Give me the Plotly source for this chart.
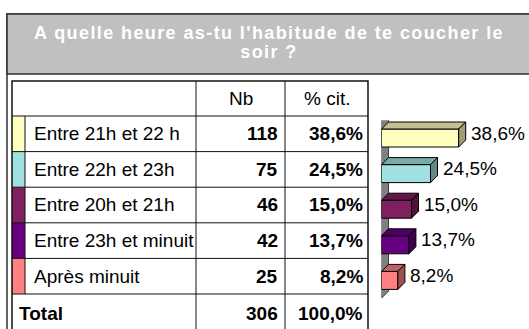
import plotly.graph_objects as go

# ---- data -------------------------------------------------------------
categories = ["Entre 21h et 22 h", "Entre 22h et 23h", "Entre 20h et 21h",
              "Entre 23h et minuit", "Après minuit"]
counts = [118, 75, 46, 42, 25]
percents = [38.6, 24.5, 15.0, 13.7, 8.2]
total_count = 306
total_percent = 100.0
header_labels = ["Nb", "% cit."]
total_label = "Total"
title_lines = ["A quelle heure as-tu l'habitude de te coucher le", "soir ?"]
colors = ["#FFFFC0", "#A0E0E0", "#802060", "#660080", "#FF8080"]

# ---- geometry (pixels) ------------------------------------------------
W, H = 529, 329
FONT = "Liberation Sans, Arial, sans-serif"
TXT = 19
TITLE_CX = 269

col_x = [12, 25, 196, 285, 368]          # table column edges
head_top, head_h, row_h = 81, 35, 35.6
row_edges = [head_top, head_top + head_h] + [head_top + head_h + row_h * (k + 1)
                                              for k in range(len(categories) + 1)]


def px(x):
    return x / W


def py(y):
    return 1 - y / H


def fmt_pct(v):
    return f"{v:.1f}".replace(".", ",") + "%"


def shade(hex_color, f):
    r, g, b = (int(hex_color[i:i + 2], 16) for i in (1, 3, 5))
    return "#%02X%02X%02X" % (int(r * f), int(g * f), int(b * f))


shapes = []
annotations = []

# title band and outer frame
shapes.append(dict(type="rect", xref="paper", yref="paper",
                   x0=px(7), x1=px(W + 6), y0=py(14), y1=py(H + 6),
                   line=dict(color="#303030", width=1.5), fillcolor="white", layer="below"))
shapes.append(dict(type="rect", xref="paper", yref="paper",
                   x0=px(7), x1=px(W + 6), y0=py(74), y1=py(14),
                   line=dict(color="#303030", width=1.5), fillcolor="#C0C0C0", layer="below"))
for k, (line_text, yc) in enumerate(zip(title_lines, [33, 52])):
    annotations.append(dict(xref="paper", yref="paper", x=px(TITLE_CX), y=py(yc),
                            text="<b>" + line_text + "</b>", showarrow=False,
                            xanchor="center", yanchor="middle", align="center",
                            font=dict(family=FONT, size=18, color="white")))

# table: swatches
for k, c in enumerate(colors):
    shapes.append(dict(type="rect", xref="paper", yref="paper",
                       x0=px(col_x[0]), x1=px(col_x[1]),
                       y0=py(row_edges[k + 2]), y1=py(row_edges[k + 1]),
                       line=dict(width=0), fillcolor=c, layer="below"))

# table: grid lines
line_style = dict(color="#101010", width=1)
for y in row_edges[1:-1]:
    shapes.append(dict(type="line", xref="paper", yref="paper",
                       x0=px(col_x[0]), x1=px(col_x[-1]), y0=py(y), y1=py(y),
                       line=line_style))
for x in col_x[2:4]:
    shapes.append(dict(type="line", xref="paper", yref="paper",
                       x0=px(x), x1=px(x), y0=py(row_edges[0]), y1=py(H + 6),
                       line=line_style))
shapes.append(dict(type="line", xref="paper", yref="paper",
                   x0=px(col_x[1]), x1=px(col_x[1]),
                   y0=py(row_edges[1]), y1=py(row_edges[-2]), line=line_style))
shapes.append(dict(type="rect", xref="paper", yref="paper",
                   x0=px(col_x[0]), x1=px(col_x[-1]), y0=py(H + 6), y1=py(row_edges[0]),
                   line=dict(color="#101010", width=1.5)))


# table: text
def cell_text(x, y, text, anchor, bold=False):
    annotations.append(dict(xref="paper", yref="paper", x=px(x), y=py(y),
                            text=("<b>%s</b>" % text) if bold else text,
                            showarrow=False, xanchor=anchor, yanchor="middle",
                            font=dict(family=FONT, size=TXT, color="black")))


head_mid = head_top + head_h / 2
cell_text((col_x[2] + col_x[3]) / 2, head_mid, header_labels[0], "center")
cell_text((col_x[3] + col_x[4]) / 2, head_mid, header_labels[1], "center")
for k, (lab, n, p) in enumerate(zip(categories, counts, percents)):
    ymid = (row_edges[k + 1] + row_edges[k + 2]) / 2
    cell_text(col_x[1] + 7, ymid, lab, "left")
    cell_text(col_x[3] - 5, ymid, str(n), "right", bold=True)
    cell_text(col_x[4] - 3, ymid, fmt_pct(p), "right", bold=True)
ymid = row_edges[-2] + 19
cell_text(col_x[0] + 5, ymid, total_label, "left", bold=True)
cell_text(col_x[3] - 5, ymid, str(total_count), "right", bold=True)
cell_text(col_x[4] - 3, ymid, fmt_pct(total_percent), "right", bold=True)

# ---- 3-D bar chart ---------------------------------------------------
bar_left, bar_top, bar_bottom = 381.5, 120.2, 298.2
px_per_unit = 2.0
n = len(categories)
unit_h = (bar_bottom - bar_top) / n
dx = 7 / px_per_unit            # depth, x units
dy = 7 / unit_h                 # depth, y units (upwards = negative)
half = 9 / unit_h               # half height of the front face

traces = []
ypos = list(range(n))
traces.append(go.Bar(x=percents, y=ypos, orientation="h", width=2 * half,
                     marker=dict(color=colors, line=dict(color="black", width=1)),
                     xaxis="x2", yaxis="y2", hoverinfo="skip", showlegend=False))
for i, (v, c) in enumerate(zip(percents, colors)):
    top = i - half
    bot = i + half
    traces.append(go.Scatter(x=[0, dx, v + dx, v, 0], y=[top, top - dy, top - dy, top, top],
                             mode="lines", fill="toself", fillcolor=shade(c, 0.76),
                             line=dict(color="black", width=1), xaxis="x2", yaxis="y2",
                             hoverinfo="skip", showlegend=False))
    traces.append(go.Scatter(x=[v, v + dx, v + dx, v, v], y=[top, top - dy, bot - dy, bot, top],
                             mode="lines", fill="toself", fillcolor=shade(c, 0.62),
                             line=dict(color="black", width=1), xaxis="x2", yaxis="y2",
                             hoverinfo="skip", showlegend=False))
    annotations.append(dict(xref="x2", yref="y2", x=v + dx, y=i, text=fmt_pct(v),
                            showarrow=False, xanchor="left", yanchor="middle",
                            xshift=3, yshift=5,
                            font=dict(family=FONT, size=TXT, color="black")))

# back wall of the 3-D plot
y_lo, y_hi = n - 0.5, -0.5
shapes.append(dict(type="path", xref="x2", yref="y2", layer="below",
                   path=f"M 0,{y_lo} L 0,{y_hi} L {dx},{y_hi - dy} L {dx},{y_lo - dy} Z",
                   fillcolor="#808080", line=dict(color="#404040", width=1)))

fig = go.Figure(traces)
fig.update_layout(
    width=W, height=H, margin=dict(l=0, r=0, t=0, b=0),
    paper_bgcolor="white", plot_bgcolor="rgba(0,0,0,0)",
    shapes=shapes, annotations=annotations, bargap=0,
    xaxis2=dict(domain=[px(bar_left), 1], range=[0, (W - bar_left) / px_per_unit],
                visible=False, fixedrange=True, anchor="y2"),
    yaxis2=dict(domain=[py(bar_bottom), py(bar_top)], range=[y_lo, y_hi],
                visible=False, fixedrange=True, anchor="x2"),
    font=dict(family=FONT),
)

# widen the letter spacing of the two title lines and keep them centred
post = (
    "var gd=document.getElementById('{plot_id}');"
    "var r0=gd.getBoundingClientRect();"
    "['0','1'].forEach(function(k){"
    "var t=gd.querySelector('g.annotation[data-index=\"'+k+'\"] text.annotation-text');"
    "if(!t){return;}"
    "t.style.letterSpacing='1.4px';"
    "var r=t.getBoundingClientRect();"
    "var d=%d-(r.left-r0.left+r.width/2);"
    "t.setAttribute('transform','translate('+d+',0)');});" % TITLE_CX
)
fig.write_html("out.html", config={"displayModeBar": False, "staticPlot": True},
               post_script=post)
